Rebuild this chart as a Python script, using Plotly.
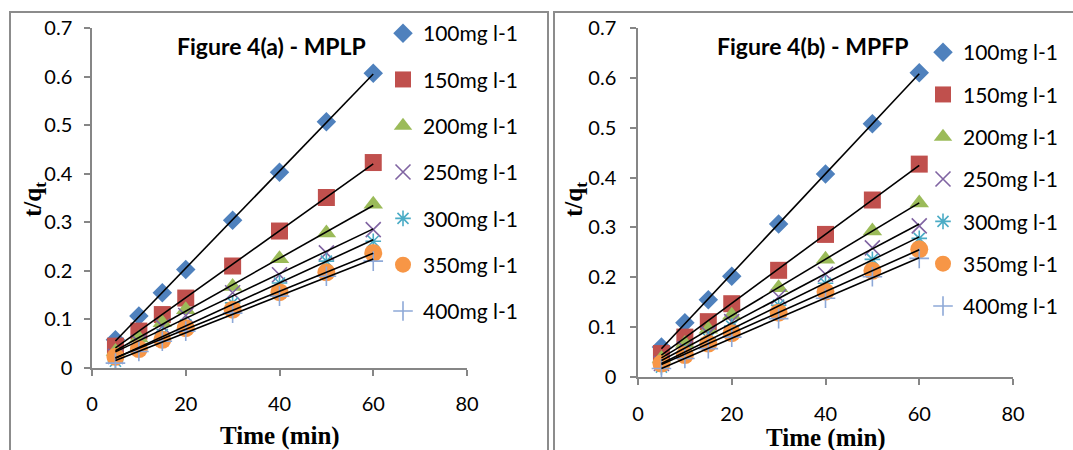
import numpy as np
import plotly.graph_objects as go

# ---------------- data ----------------
time_min = [5, 10, 15, 20, 30, 40, 50, 60]
series_names = ["100mg l-1", "150mg l-1", "200mg l-1", "250mg l-1",
                "300mg l-1", "350mg l-1", "400mg l-1"]

# Figure 4(a) - MPLP  (t/qt)
mplp_100 = [0.058, 0.107, 0.155, 0.203, 0.304, 0.403, 0.507, 0.607]
mplp_150 = [0.045, 0.076, 0.110, 0.144, 0.210, 0.282, 0.351, 0.423]
mplp_200 = [0.034, 0.062, 0.093, 0.120, 0.168, 0.225, 0.278, 0.337]
mplp_250 = [0.024, 0.053, 0.086, 0.108, 0.155, 0.192, 0.237, 0.285]
mplp_300 = [0.014, 0.041, 0.069, 0.089, 0.134, 0.175, 0.220, 0.261]
mplp_350 = [0.023, 0.039, 0.058, 0.082, 0.120, 0.156, 0.197, 0.237]
mplp_400 = [0.010, 0.034, 0.055, 0.076, 0.113, 0.148, 0.189, 0.220]

# Figure 4(b) - MPFP  (t/qt)
mpfp_100 = [0.060, 0.109, 0.155, 0.202, 0.307, 0.407, 0.508, 0.610]
mpfp_150 = [0.047, 0.080, 0.111, 0.147, 0.214, 0.286, 0.355, 0.427]
mpfp_200 = [0.037, 0.067, 0.096, 0.124, 0.179, 0.236, 0.293, 0.349]
mpfp_250 = [0.027, 0.057, 0.087, 0.111, 0.161, 0.206, 0.259, 0.303]
mpfp_300 = [0.020, 0.050, 0.077, 0.102, 0.144, 0.188, 0.236, 0.278]
mpfp_350 = [0.027, 0.044, 0.067, 0.088, 0.129, 0.171, 0.213, 0.256]
mpfp_400 = [0.017, 0.037, 0.057, 0.080, 0.117, 0.158, 0.201, 0.238]

x_ticks = [0, 20, 40, 60, 80]
y_ticks = [0, 0.1, 0.2, 0.3, 0.4, 0.5, 0.6, 0.7]
y_tick_text = ["0", "0.1", "0.2", "0.3", "0.4", "0.5", "0.6", "0.7"]

mplp = [mplp_100, mplp_150, mplp_200, mplp_250, mplp_300, mplp_350, mplp_400]
mpfp = [mpfp_100, mpfp_150, mpfp_200, mpfp_250, mpfp_300, mpfp_350, mpfp_400]

# ---------------- styles ----------------
colors = ["#4F81BD", "#C0504D", "#9BBB59", "#8064A2", "#4BACC6", "#F79646", "#8EA9D8"]
symbols = ["diamond", "square", "triangle-up", "x-thin-open", "asterisk-open",
           "circle", "cross-thin-open"]
sizes = [15, 17, 17, 15, 13, 18, 14]
FONT = "Lato, Carlito, 'Open Sans', sans-serif"
SERIF = "'Liberation Serif', 'Times New Roman', serif"
AX_GRAY = "#868686"

fig = go.Figure()

panels = [("x", "y", "legend", mplp), ("x2", "y2", "legend2", mpfp)]
# markers first
for xa, ya, lg, data in panels:
    for i, vals in enumerate(data):
        open_sym = symbols[i].endswith("open")
        marker = dict(symbol=symbols[i], size=sizes[i], color=colors[i])
        if open_sym:
            marker["line"] = dict(color=colors[i], width=1.6)
        else:
            marker["line"] = dict(width=0)
        fig.add_trace(go.Scatter(
            x=time_min, y=vals, mode="markers", name=series_names[i],
            marker=marker, xaxis=xa, yaxis=ya, legend=lg,
            legendgroup=lg + str(i), showlegend=True))
# linear trend lines on top
for xa, ya, lg, data in panels:
    for i, vals in enumerate(data):
        slope, icpt = np.polyfit(time_min, vals, 1)
        xs = [time_min[0], time_min[-1]]
        fig.add_trace(go.Scatter(
            x=xs, y=[slope * v + icpt for v in xs], mode="lines",
            line=dict(color="black", width=1.6), xaxis=xa, yaxis=ya,
            showlegend=False, hoverinfo="skip"))

W, H = 1073, 450
def px_x(p): return p / W
def px_y(p): return 1 - p / H

axis_common = dict(showline=True, linecolor=AX_GRAY, linewidth=1.5,
                   ticks="outside", ticklen=6, tickcolor=AX_GRAY, tickwidth=1.5,
                   showgrid=False, zeroline=False, automargin=False,
                   tickfont=dict(family=FONT, size=20, color="black"))

fig.update_layout(
    width=W, height=H,
    margin=dict(l=0, r=0, t=0, b=0, autoexpand=False),
    paper_bgcolor="white", plot_bgcolor="white", showlegend=True,
    xaxis=dict(domain=[px_x(92), px_x(467)], range=[0, 80], tickvals=x_ticks,
               anchor="y", ticklabelstandoff=11, **axis_common),
    yaxis=dict(domain=[px_y(368), px_y(28)], range=[0, 0.7], tickvals=y_ticks,
               ticktext=y_tick_text, anchor="x", ticklabelstandoff=8, **axis_common),
    xaxis2=dict(domain=[px_x(638), px_x(1013)], range=[0, 80], tickvals=x_ticks,
                anchor="y2", ticklabelstandoff=12, **axis_common),
    yaxis2=dict(domain=[px_y(377), px_y(28)], range=[0, 0.7], tickvals=y_ticks,
                ticktext=y_tick_text, anchor="x2", ticklabelstandoff=10, **axis_common),
    legend=dict(x=px_x(383), y=px_y(13), xanchor="left", yanchor="top",
                font=dict(family=FONT, size=21, color="black"),
                bgcolor="rgba(0,0,0,0)", tracegroupgap=16, itemwidth=30),
    legend2=dict(x=px_x(923), y=px_y(32), xanchor="left", yanchor="top",
                 font=dict(family=FONT, size=21, color="black"),
                 bgcolor="rgba(0,0,0,0)", tracegroupgap=12, itemwidth=30),
)

annotations = [
    dict(text="<b>Figure 4(a) - MPLP</b>", x=px_x(271), y=px_y(46)),
    dict(text="<b>Figure 4(b) - MPFP</b>", x=px_x(812), y=px_y(46)),
]
for a in annotations:
    a.update(xref="paper", yref="paper", showarrow=False, xanchor="center",
             yanchor="middle", font=dict(family=FONT, size=23, color="black"))
titles = [
    dict(text="<b>Time (min)</b>", x=px_x(280), y=px_y(436), textangle=0),
    dict(text="<b>Time (min)</b>", x=px_x(826), y=px_y(438), textangle=0),
    dict(text="<b>t/q<sub>t</sub></b>", x=px_x(34), y=px_y(200), textangle=-90),
    dict(text="<b>t/q<sub>t</sub></b>", x=px_x(575), y=px_y(200), textangle=-90),
]
for a in titles:
    a.update(xref="paper", yref="paper", showarrow=False, xanchor="center",
             yanchor="middle", font=dict(family=SERIF, size=25, color="black"))
fig.update_layout(annotations=annotations + titles)

# chart-area borders
fig.add_shape(type="rect", xref="paper", yref="paper",
              x0=px_x(10), x1=px_x(548), y0=px_y(470), y1=px_y(12),
              line=dict(color="#8C8C8C", width=2), layer="below")
fig.add_shape(type="rect", xref="paper", yref="paper",
              x0=px_x(554), x1=px_x(1090), y0=px_y(470), y1=px_y(12),
              line=dict(color="#8C8C8C", width=2), layer="below")

# remove the default page margin so the figure sits at the window's top-left
fig.write_html("out.html", config={"displayModeBar": False},
               post_script="document.body.style.margin='0';")
